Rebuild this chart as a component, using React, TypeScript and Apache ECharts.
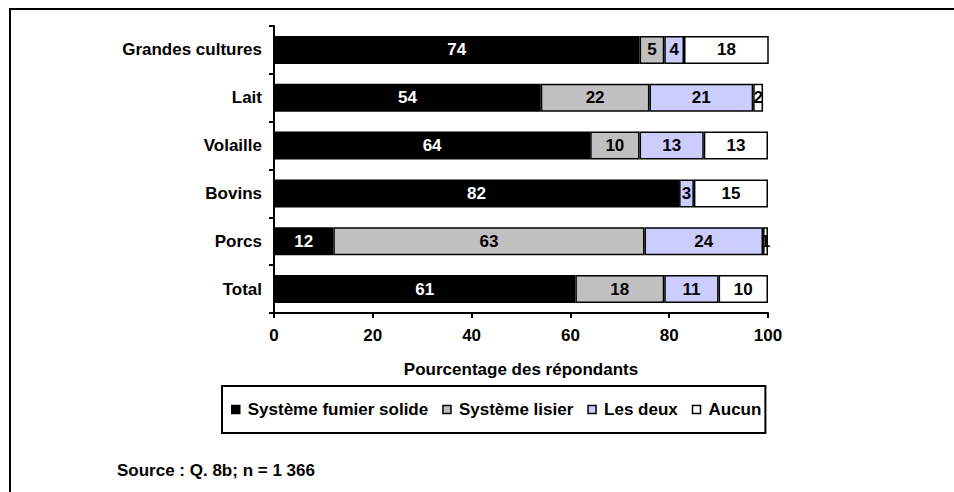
import React, { useEffect, useRef } from "react";
import * as echarts from "echarts";

const categories = ["Grandes cultures", "Lait", "Volaille", "Bovins", "Porcs", "Total"];
const fumierSolide = [74, 54, 64, 82, 12, 61];
const lisier = [5, 22, 10, 0, 63, 18];
const lesDeux = [4, 21, 13, 3, 24, 11];
const aucun = [18, 2, 13, 15, 1, 10];
const seriesNames = ["Système fumier solide", "Système lisier", "Les deux", "Aucun"];
const xTicks = [0, 20, 40, 60, 80, 100];

const FONT = "'Liberation Sans', Arial, sans-serif";

export default function App() {
  const ref = useRef<HTMLDivElement>(null);
  useEffect(() => {
    if (!ref.current) return;
    const chart = echarts.init(ref.current, null, { renderer: "svg" });
    const colors = ["#000000", "#C0C0C0", "#CCCCFF", "#FFFFFF"];
    const labelColors = ["#FFFFFF", "#000000", "#000000", "#000000"];
    const all = [fumierSolide, lisier, lesDeux, aucun];
    const series = all.map((arr, i) => ({
      name: seriesNames[i],
      type: "bar",
      stack: "total",
      barWidth: 28,
      data: arr.map((v) => (v === 0 ? null : v)),
      itemStyle: { color: colors[i], borderColor: "#000", borderWidth: 1.5 },
      label: {
        show: true,
        position: "inside",
        color: labelColors[i],
        fontFamily: FONT,
        fontWeight: "bold",
        fontSize: 17,
        formatter: (p: any) => (p.value ? String(p.value) : ""),
      },
      emphasis: { disabled: true },
    }));
    chart.setOption({
      animation: false,
      textStyle: { fontFamily: FONT },
      grid: { left: 274, right: 186, top: 26, height: 287, containLabel: false },
      xAxis: {
        type: "value",
        min: xTicks[0],
        max: xTicks[xTicks.length - 1],
        interval: 20,
        name: "Pourcentage des répondants",
        nameLocation: "middle",
        nameGap: 48,
        nameTextStyle: { color: "#000", fontWeight: "bold", fontSize: 17, fontFamily: FONT },
        axisLine: { show: true, lineStyle: { color: "#000", width: 2 } },
        axisTick: { show: true, length: 5, lineStyle: { color: "#000", width: 2 } },
        axisLabel: { color: "#000", fontWeight: "bold", fontSize: 17, fontFamily: FONT, margin: 14 },
        splitLine: { show: false },
      },
      yAxis: {
        type: "category",
        data: categories,
        inverse: true,
        axisLine: { show: true, lineStyle: { color: "#000", width: 2 } },
        axisTick: { show: true, length: 5, lineStyle: { color: "#000", width: 2 } },
        axisLabel: { color: "#000", fontWeight: "bold", fontSize: 17, fontFamily: FONT, margin: 12 },
      },
      legend: {
        left: 222,
        top: 386,
        width: 800,
        padding: [15, 4, 15, 9],
        borderColor: "#000",
        borderWidth: 2,
        itemWidth: 8,
        itemHeight: 8,
        itemGap: 14,
        icon: "rect",
        selectedMode: false,
        textStyle: { color: "#000", fontWeight: "bold", fontSize: 17, fontFamily: FONT, padding: [0, 0, 0, 3] },
        itemStyle: { borderColor: "#000", borderWidth: 1.5 },
        data: seriesNames,
      },
      graphic: [
        {
          type: "polyline",
          shape: { points: [[10, 492], [10, 9], [954, 9]] },
          style: { stroke: "#000", lineWidth: 2, fill: null },
          silent: true,
        },
        {
          type: "text",
          x: 117,
          y: 470,
          style: {
            text: "Source : Q. 8b; n = 1 366",
            fill: "#000",
            font: `bold 17px ${FONT}`,
            verticalAlign: "middle",
          },
        },
      ],
      series,
    });
    return () => chart.dispose();
  }, []);
  return <div ref={ref} style={{ position: "fixed", left: 0, top: 0, width: 954, height: 492, background: "#fff" }} />;
}
